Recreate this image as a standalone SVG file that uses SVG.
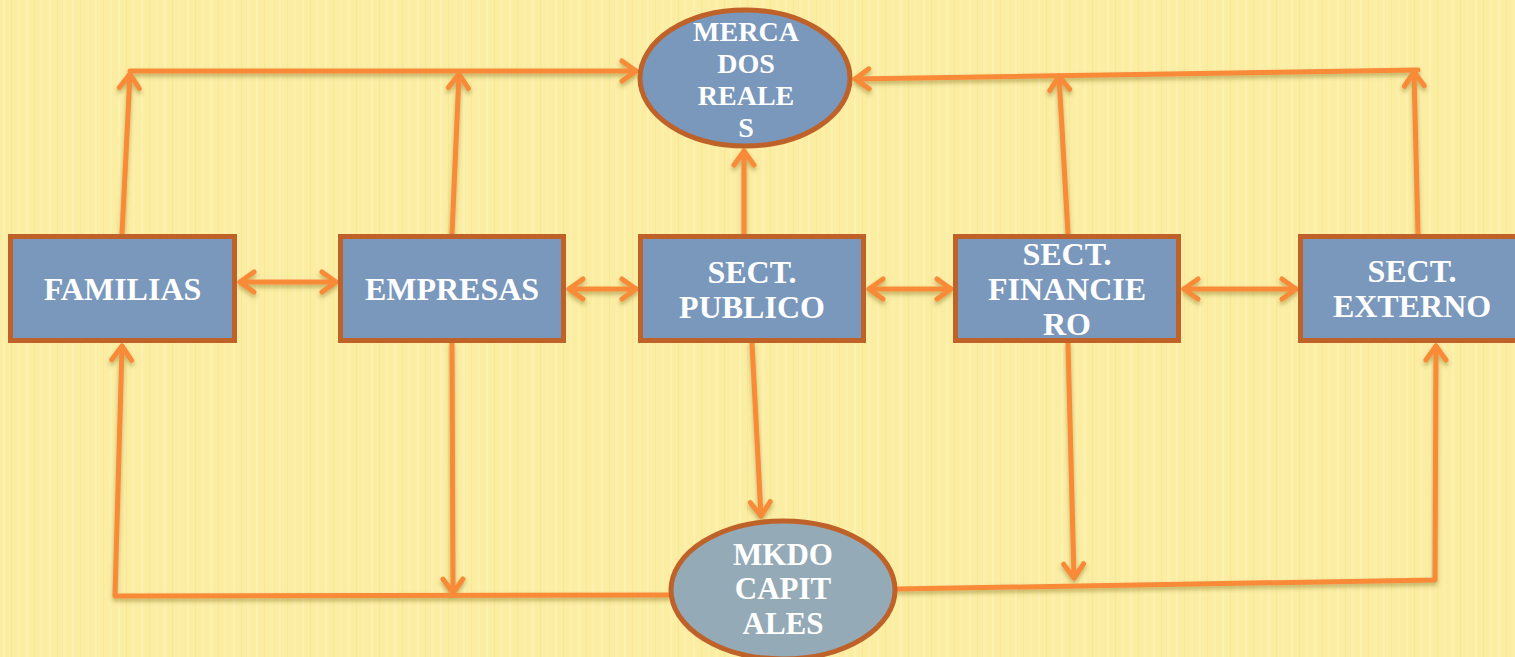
<svg xmlns="http://www.w3.org/2000/svg" width="1515" height="657" viewBox="0 0 1515 657">
  <defs>
    <pattern id="stripes" width="23" height="657" patternUnits="userSpaceOnUse">
      <rect width="23" height="657" fill="#FBEDA2"/>
      <rect x="3" width="2" height="657" fill="#FDF3B8" opacity="0.7"/>
      <rect x="11" width="1" height="657" fill="#F4E392" opacity="0.6"/>
      <rect x="17" width="3" height="657" fill="#FCF0AE" opacity="0.6"/>
    </pattern>
    <filter id="shadow" x="-5%" y="-5%" width="110%" height="120%">
      <feDropShadow dx="0" dy="3" stdDeviation="2.2" flood-color="#6B5A10" flood-opacity="0.4"/>
    </filter>
    <marker id="arrow" viewBox="-18 -12 22 24" markerUnits="userSpaceOnUse" markerWidth="22" markerHeight="24" refX="0" refY="0" orient="auto-start-reverse" overflow="visible">
      <path d="M-14,-10 L0,0 L-14,10" fill="none" stroke="#F98A39" stroke-width="5" stroke-linecap="round" stroke-linejoin="round"/>
    </marker>
    <style>
      .box { fill: #7A97BC; stroke: #BF622A; stroke-width: 5; }
      .ell { stroke: #BF622A; stroke-width: 5; }
      .lbl { font-family: "Liberation Serif", "Times New Roman", serif; font-weight: bold; fill: #FFFFFF; text-anchor: middle; }
      .con { fill: none; stroke: #F98A39; stroke-width: 5; stroke-linecap: round; stroke-linejoin: round; }
    </style>
  </defs>

  <rect width="1515" height="657" fill="url(#stripes)"/>

  <g id="connectors" filter="url(#shadow)">
    <!-- top left -->
    <path class="con" d="M122,234 L130,74" marker-end="url(#arrow)"/>
    <path class="con" d="M130,71 L636,71" marker-end="url(#arrow)"/>
    <path class="con" d="M452,234 L459,74" marker-end="url(#arrow)"/>
    <path class="con" d="M744,234 L744,151" marker-end="url(#arrow)"/>
    <!-- top right -->
    <path class="con" d="M1068,234 L1059,76" marker-end="url(#arrow)"/>
    <path class="con" d="M1418,234 L1414,72" marker-end="url(#arrow)"/>
    <path class="con" d="M1418,70 L855,79" marker-end="url(#arrow)"/>
    <!-- horizontal double arrows -->
    <path class="con" d="M240,282 L336,282" marker-start="url(#arrow)" marker-end="url(#arrow)"/>
    <path class="con" d="M569,289 L636,289" marker-start="url(#arrow)" marker-end="url(#arrow)"/>
    <path class="con" d="M869,289 L951,289" marker-start="url(#arrow)" marker-end="url(#arrow)"/>
    <path class="con" d="M1184,289 L1296,289" marker-start="url(#arrow)" marker-end="url(#arrow)"/>
    <!-- downward -->
    <path class="con" d="M452,343 L453,593" marker-end="url(#arrow)"/>
    <path class="con" d="M752,343 L761,516" marker-end="url(#arrow)"/>
    <path class="con" d="M1068,343 L1074,578" marker-end="url(#arrow)"/>
    <!-- bottom loops -->
    <path class="con" d="M669,595 L115,596 L122,346" marker-end="url(#arrow)"/>
    <path class="con" d="M896,589 L1435,580 L1436,346" marker-end="url(#arrow)"/>
  </g>

  <g id="node-mercados-reales">
    <ellipse class="ell" cx="745" cy="78" rx="105" ry="68" fill="#7A97BC"/>
    <text class="lbl" font-size="28" x="746" y="41">MERCA</text>
    <text class="lbl" font-size="28" x="746" y="73">DOS</text>
    <text class="lbl" font-size="28" x="746" y="105">REALE</text>
    <text class="lbl" font-size="28" x="746" y="137">S</text>
  </g>

  <g id="node-familias">
    <rect class="box" x="10.5" y="236.5" width="224" height="104"/>
    <text class="lbl" font-size="32" x="122.5" y="300">FAMILIAS</text>
  </g>

  <g id="node-empresas">
    <rect class="box" x="340.5" y="236.5" width="223" height="104"/>
    <text class="lbl" font-size="32" x="452" y="300">EMPRESAS</text>
  </g>

  <g id="node-sect-publico">
    <rect class="box" x="640.5" y="236.5" width="223" height="104"/>
    <text class="lbl" font-size="32" x="752" y="283">SECT.</text>
    <text class="lbl" font-size="32" x="752" y="318">PUBLICO</text>
  </g>

  <g id="node-sect-financiero">
    <rect class="box" x="955.5" y="236.5" width="223" height="104"/>
    <text class="lbl" font-size="32" x="1067" y="265">SECT.</text>
    <text class="lbl" font-size="32" x="1067" y="300">FINANCIE</text>
    <text class="lbl" font-size="32" x="1067" y="335">RO</text>
  </g>

  <g id="node-sect-externo">
    <rect class="box" x="1300.5" y="236.5" width="224" height="104"/>
    <text class="lbl" font-size="32" x="1412" y="282">SECT.</text>
    <text class="lbl" font-size="32" x="1412" y="317">EXTERNO</text>
  </g>

  <g id="node-mkdo-capitales">
    <ellipse class="ell" cx="783" cy="590" rx="112" ry="69" fill="#95AAB7"/>
    <text class="lbl" font-size="31" x="783" y="565">MKDO</text>
    <text class="lbl" font-size="31" x="783" y="599">CAPIT</text>
    <text class="lbl" font-size="31" x="783" y="634">ALES</text>
  </g>
</svg>
